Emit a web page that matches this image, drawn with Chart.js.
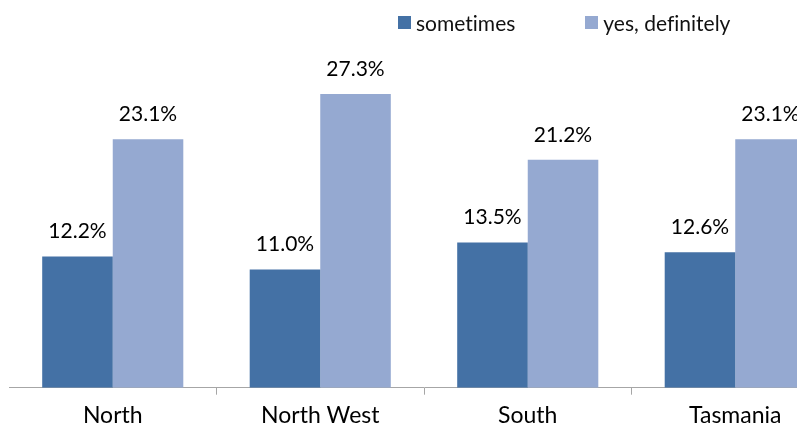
<!DOCTYPE html>
<html>
<head>
<meta charset="utf-8">
<script src="https://cdn.jsdelivr.net/npm/chart.js@4/dist/chart.umd.min.js"></script>
<style>
  body { margin: 0; overflow: hidden; background: #fff; font-family: Lato, sans-serif; }
  #wrap { position: relative; width: 797px; height: 425px; overflow: hidden; }
  #legend { position: absolute; top: 8px; left: 398px; font-size: 21px; color: #111; white-space: nowrap; font-variant-ligatures: none; }
  #legend span.item { display: inline-flex; align-items: center; }
  #legend i { display: inline-block; width: 13px; height: 13px; margin-right: 5px; }
</style>
</head>
<body>
<div id="wrap">
  <canvas id="regions" width="845" height="436"></canvas>
  <div id="legend"></div>
</div>
<script>
const regions = ["North", "North West", "South", "Tasmania"];
const seriesNames = ["sometimes", "yes, definitely"];
const sometimes = [12.2, 11.0, 13.5, 12.6];
const definitely = [23.1, 27.3, 21.2, 23.1];
const colors = ["#4471a5", "#95a9d1"];

// legend above the plot, like the original
const legend = document.getElementById('legend');
seriesNames.forEach((name, i) => {
  const item = document.createElement('span');
  item.className = 'item';
  item.style.marginRight = i === 0 ? '70px' : '0';
  item.innerHTML = '<i style="background:' + colors[i] + '"></i>' + name;
  legend.appendChild(item);
});

// value labels on top of every bar
const valueLabels = {
  id: 'valueLabels',
  afterDatasetsDraw(chart) {
    const ctx = chart.ctx;
    ctx.save();
    ctx.font = '21px Lato, sans-serif';
    ctx.fillStyle = '#000';
    ctx.textAlign = 'center';
    ctx.textBaseline = 'alphabetic';
    chart.data.datasets.forEach((ds, d) => {
      chart.getDatasetMeta(d).data.forEach((bar, i) => {
        ctx.fillText(ds.data[i].toFixed(1) + '%', bar.x, bar.y - 18);
      });
    });
    ctx.restore();
  }
};

new Chart("regions", {
  type: "bar",
  data: {
    labels: regions,
    datasets: [
      { label: seriesNames[0], data: sometimes, backgroundColor: colors[0] },
      { label: seriesNames[1], data: definitely, backgroundColor: colors[1] }
    ]
  },
  options: {
    responsive: false,
    animation: false,
    devicePixelRatio: 1,
    categoryPercentage: 0.68,
    barPercentage: 1.0,
    layout: { padding: { left: 9, right: 6, top: 65, bottom: 0 } },
    plugins: {
      legend: { display: false },
      tooltip: { enabled: false }
    },
    scales: {
      x: {
        border: { display: true, color: "#a6a6a6", width: 1 },
        grid: {
          offset: true,
          drawOnChartArea: false,
          drawTicks: true,
          tickLength: 7,
          color: ctx => ctx.index === 0 ? 'rgba(0,0,0,0)' : '#a6a6a6'
        },
        ticks: {
          color: "#000",
          padding: 8,
          font: { family: "Lato, sans-serif", size: 23, lineHeight: 1.1 }
        }
      },
      y: { display: false, min: 0, max: 30 }
    }
  },
  plugins: [valueLabels]
});
</script>
</body>
</html>
